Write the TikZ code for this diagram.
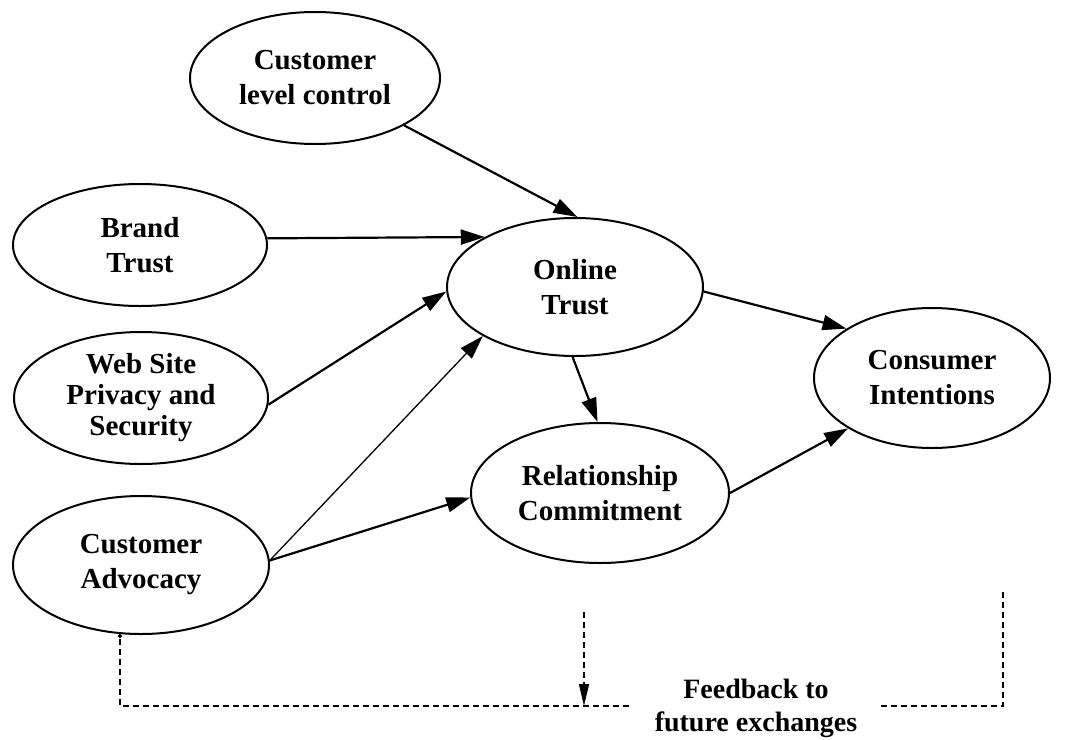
\documentclass[tikz,border=0pt]{standalone}
\usepackage{fontspec}
\setmainfont{Liberation Serif}
\usetikzlibrary{shapes.geometric,arrows.meta}
\begin{document}
\begin{tikzpicture}[x=1pt,y=-1pt,
  oval/.style={draw, ellipse, line width=2pt, inner sep=0pt, align=center,
    font=\bfseries\fontsize{29}{35}\selectfont},
  conn/.style={line width=2.2pt, -{Triangle[length=24pt,width=15pt]}},
  thinconn/.style={line width=1.3pt, -{Triangle[length=24pt,width=15pt]}},
  fbline/.style={line width=1.5pt, dash pattern=on 6pt off 4pt},
  fbarrow/.style={fbline, -{Triangle[length=22pt,width=10pt]}},
  fbtext/.style={align=center, inner sep=0pt, font=\bfseries\fontsize{28}{33}\selectfont},
]
\useasboundingbox (0,0) rectangle (1068,739);

\node[oval, minimum width=250pt, minimum height=132pt] (clc) at (315,78) {Customer\\level control};
\node[oval, minimum width=254pt, minimum height=122pt] (brand) at (140,245) {Brand\\Trust};
\node[oval, minimum width=254pt, minimum height=132pt, font=\bfseries\fontsize{29}{31}\selectfont] (web) at (141,398) {Web Site\\Privacy and\\Security};
\node[oval, minimum width=256pt, minimum height=138pt] (adv) at (141,565) {Customer\\Advocacy};
\node[oval, minimum width=256pt, minimum height=138pt] (online) at (575,287) {Online\\Trust};
\node[oval, minimum width=258pt, minimum height=140pt] (rel) at (600,493) {Relationship\\Commitment};
\node[oval, minimum width=236pt, minimum height=140pt] (cons) at (932,378) {Consumer\\Intentions};
\node[fbtext] (fb) at (756,708) {Feedback to\\future exchanges};

\draw[conn] (clc.-28) -- (online.88);
\draw[conn] (brand.3) -- (online.151);
\draw[conn] (web.-3) -- (online.182);
\draw[thinconn] (adv.2) -- (online.208);
\draw[conn] (adv.2) -- (rel.182);
\draw[conn] (online.268) -- (rel.92);
\draw[conn] (online.-2) -- (cons.150);
\draw[conn] (rel.0) -- (cons.211);

\coordinate (rtop) at (1003,592);
\coordinate (fbR) at (880,706);
\coordinate (fbL) at (629,706);
\coordinate (ctop) at (584,612);
\coordinate (cbot) at (584,706);
\draw[fbline] (rtop) |- (fbR);
\draw[fbline, -{Circle[length=4pt]}] (fbL) -| (adv.253);
\draw[fbarrow] (ctop) -- (cbot);
\end{tikzpicture}
\end{document}
